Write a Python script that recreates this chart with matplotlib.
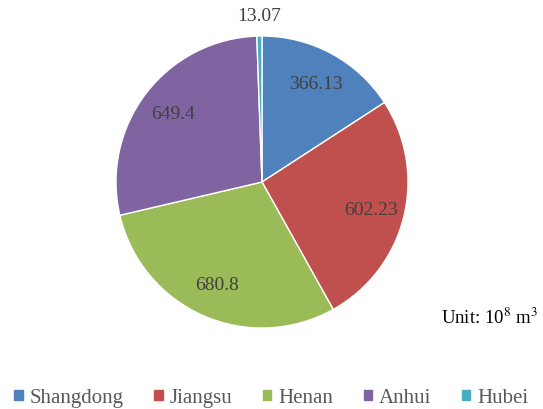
import matplotlib
matplotlib.use("Agg")
import matplotlib.pyplot as plt
import numpy as np

provinces = ["Shangdong", "Jiangsu", "Henan", "Anhui", "Hubei"]
values = [366.13, 602.23, 680.8, 649.4, 13.07]
value_labels = ["366.13", "602.23", "680.8", "649.4", "13.07"]
colors = ["#4F81BD", "#C0504D", "#9BBB59", "#8064A2", "#4BACC6"]

plt.rcParams['font.family'] = ['Liberation Serif', 'DejaVu Serif']

W, H = 543, 410
fig = plt.figure(figsize=(W / 100, H / 100), dpi=100)
cx, cy, r = 262, 183, 146
ax = fig.add_axes([(cx - r) / W, (H - cy - r) / H, 2 * r / W, 2 * r / H])
wedges, _ = ax.pie(values, colors=colors, startangle=90, counterclock=False,
                   radius=1, wedgeprops=dict(edgecolor="white", linewidth=1.0))
ax.set_xlim(-1, 1)
ax.set_ylim(-1, 1)
ax.set_aspect("equal")
ax.axis("off")

for w, lab in zip(wedges, value_labels):
    ang = np.deg2rad((w.theta1 + w.theta2) / 2)
    frac = (w.theta2 - w.theta1) / 360
    d = 1.14 if frac < 0.02 else 0.77
    ax.text(d * np.cos(ang), d * np.sin(ang), lab, ha="center", va="center",
            fontsize=14, color="#404040", clip_on=False)

fig.text(489 / W, 1 - 318 / H, "Unit: 10$^{8}$ m$^{3}$", ha="center", va="center",
         fontsize=13.5, color="black", math_fontfamily="stix")

handles = [plt.Rectangle((0, 0), 1, 1, color=c) for c in colors]
fig.legend(handles, provinces, loc="center", bbox_to_anchor=(0.5, 1 - 399 / H),
           ncol=5, frameon=False,
           prop=dict(family=['Liberation Serif'], size=15),
           handlelength=0.4, handleheight=0.4,
           handletextpad=0.35, columnspacing=1.45, labelcolor="#595959",
           borderpad=0, borderaxespad=0)

fig.savefig("out.png", dpi=100)
